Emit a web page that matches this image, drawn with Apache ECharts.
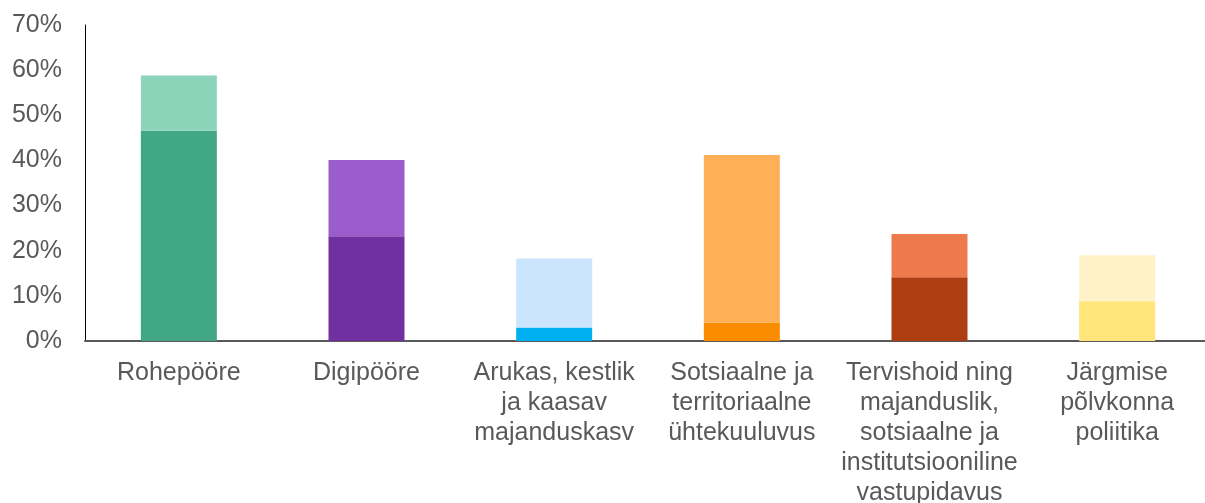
<!DOCTYPE html>
<html>
<head>
<meta charset="utf-8">
<script src="https://cdn.jsdelivr.net/npm/echarts@6/dist/echarts.min.js"></script>
<style>
  html, body { margin: 0; padding: 0; background: #fff; }
  #chart { width: 1205px; height: 503px; }
</style>
</head>
<body>
<div id="chart"></div>
<script>
// kategooriad
var categories = [
  'Rohepööre',
  'Digipööre',
  'Arukas, kestlik\nja kaasav\nmajanduskasv',
  'Sotsiaalne ja\nterritoriaalne\nühtekuuluvus',
  'Tervishoid ning\nmajanduslik,\nsotsiaalne ja\ninstitutsiooniline\nvastupidavus',
  'Järgmise\npõlvkonna\npoliitika'
];
// alumine osa (%)
var baseValues = [46.6, 23.2, 3.0, 4.1, 14.1, 8.8];
// ülemine osa (%), lisandub alumisele
var topValues = [12.2, 16.9, 15.3, 37.1, 9.6, 10.2];
var yTicks = [0, 10, 20, 30, 40, 50, 60, 70];

var baseColors = ['#41A784', '#7030A0', '#00B0F0', '#FA8C00', '#AE3D12', '#FFE57A'];
var topColors = ['#8BD3B9', '#9B5CCC', '#CCE5FF', '#FFAF55', '#ED7A4B', '#FFF2C7'];

var chart = echarts.init(document.getElementById('chart'));
var font = 'Liberation Sans, Arial, sans-serif';

var option = {
  animation: false,
  grid: { left: 85, right: -6, top: 25, bottom: 162, outerBoundsMode: 'none', containLabel: false },
  xAxis: {
    type: 'category',
    data: categories,
    axisLine: { show: true, lineStyle: { color: '#595959', width: 2 } },
    axisTick: { show: false },
    axisLabel: {
      interval: 0,
      color: '#595959',
      fontFamily: font,
      fontSize: 25,
      lineHeight: 30,
      margin: 17
    }
  },
  yAxis: {
    type: 'value',
    min: yTicks[0],
    max: yTicks[yTicks.length - 1],
    interval: 10,
    axisLine: { show: true, lineStyle: { color: '#000', width: 1 } },
    axisTick: { show: false },
    splitLine: { show: false },
    axisLabel: {
      color: '#595959',
      fontFamily: font,
      fontSize: 25,
      margin: 23,
      formatter: '{value}%'
    }
  },
  series: [
    {
      name: 'base',
      type: 'bar',
      stack: 'total',
      barWidth: 76,
      data: baseValues.map(function (v, i) {
        return { value: v, itemStyle: { color: baseColors[i] } };
      })
    },
    {
      name: 'top',
      type: 'bar',
      stack: 'total',
      barWidth: 76,
      data: topValues.map(function (v, i) {
        return { value: v, itemStyle: { color: topColors[i] } };
      })
    }
  ]
};

chart.setOption(option);
</script>
</body>
</html>
